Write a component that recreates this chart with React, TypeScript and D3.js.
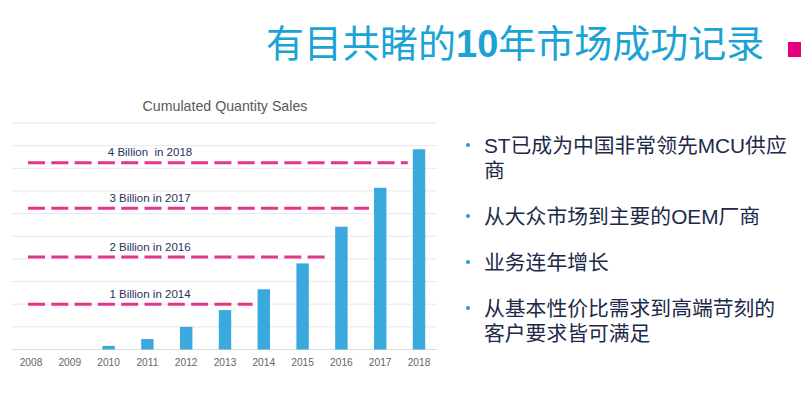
import React from 'react';
import * as d3 from 'd3';

const years = ['2008', '2009', '2010', '2011', '2012', '2013', '2014', '2015', '2016', '2017', '2018'];
// cumulated quantity, billion units
const sales = [0, 0, 0.08, 0.23, 0.5, 0.87, 1.33, 1.9, 2.71, 3.57, 4.42];

const milestoneLabels = ['1 Billion in 2014', '2 Billion in 2016', '3 Billion in 2017', '4 Billion  in 2018'];
const milestoneYears = ['2014', '2016', '2017', '2018'];
const milestoneValues = [1.0, 2.04, 3.12, 4.12];

const gridValues = d3.range(0, 10.5, 1).map(d => d / 2);

const bullets = [
  ['ST已成为中国非常领先MCU供应', '商'],
  ['从大众市场到主要的OEM厂商'],
  ['业务连年增长'],
  ['从基本性价比需求到高端苛刻的', '客户要求皆可满足'],
];
const bulletTops = [153, 224, 270, 316];

const W = 801;
const H = 398;

const App = () => {
  const x = d3.scaleBand().domain(years).range([11.6, 438.4]).paddingInner(0.68).paddingOuter(0.34);
  const y = d3.scaleLinear().domain([0, 5]).range([349.5, 123]);

  const font = '"Liberation Sans", Arial, "Noto Sans CJK SC", sans-serif';

  return (
    <svg width={W} height={H} style={{position: 'absolute', left: 0, top: 0, background: '#fff'}}>
      {/* header */}
      <text x={266} y={57} fontFamily={font} fontSize={38} fill="#1ba3d6">
        有目共睹的<tspan fontWeight="bold">10</tspan>年市场成功记录
      </text>
      <rect x={788} y={42} width={13} height={15} fill="#e4007f" />

      {/* chart title */}
      <text x={225} y={110.5} textAnchor="middle" fontFamily={font} fontSize={14.2} fill="#595959">
        Cumulated Quantity Sales
      </text>

      {/* grid */}
      {gridValues.map(v => (
        <line key={v} x1={12} x2={437} y1={y(v)} y2={y(v)} stroke={v === 0 ? '#dcdcdc' : '#e8e8e8'} strokeWidth={1} />
      ))}

      {/* bars */}
      {years.map((yr, i) =>
        sales[i] > 0 ? (
          <rect key={yr} x={x(yr)} y={y(sales[i])} width={x.bandwidth()} height={y(0) - y(sales[i])} fill="#3aa9de" />
        ) : null
      )}

      {/* x labels */}
      {years.map(yr => (
        <text key={yr} x={(x(yr) as number) + x.bandwidth() / 2} y={365.5} textAnchor="middle" fontFamily={font} fontSize={10.2} fill="#666">
          {yr}
        </text>
      ))}

      {/* milestones */}
      {milestoneLabels.map((lab, i) => {
        const yy = y(milestoneValues[i]);
        return (
          <g key={lab}>
            <line
              x1={28}
              x2={(x(milestoneYears[i]) as number) - 5}
              y1={yy}
              y2={yy}
              stroke="#e2358c"
              strokeWidth={3}
              strokeDasharray="17 6.3"
            />
            <text x={150} y={yy - 6.5} textAnchor="middle" fontFamily={font} fontSize={11.5} fill="#26325c" style={{whiteSpace: 'pre'}}>
              {lab}
            </text>
          </g>
        );
      })}

      {/* bullet list */}
      {bullets.map((lines, i) => (
        <g key={i}>
          <circle cx={468} cy={bulletTops[i] - 8} r={2} fill="#1ba3d6" />
          {lines.map((ln, j) => (
            <text key={j} x={484} y={bulletTops[i] + j * 25} fontFamily={font} fontSize={20.8} fill="#202a48">
              {ln}
            </text>
          ))}
        </g>
      ))}
    </svg>
  );
};

export default App;
